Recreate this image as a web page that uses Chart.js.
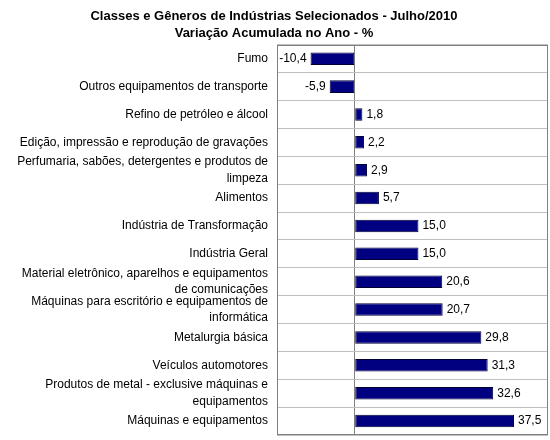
<!DOCTYPE html>
<html>
<head>
<meta charset="utf-8">
<script src="https://cdn.jsdelivr.net/npm/chart.js@4.4.0/dist/chart.umd.min.js"></script>
<style>
  html, body { margin: 0; padding: 0; background: #fff; }
  #wrap { width: 550px; height: 440px; }
</style>
</head>
<body>
<div id="wrap"><canvas id="grafico"></canvas></div>
<script>
const setores = [
    'Fumo',
    'Outros equipamentos de transporte',
    'Refino de petróleo e álcool',
    'Edição, impressão e reprodução de gravações',
    ['Perfumaria, sabões, detergentes e produtos de', 'limpeza'],
    'Alimentos',
    'Indústria de Transformação',
    'Indústria Geral',
    ['Material eletrônico, aparelhos e equipamentos', 'de comunicações'],
    ['Máquinas para escritório e equipamentos de', 'informática'],
    'Metalurgia básica',
    'Veículos automotores',
    ['Produtos de metal - exclusive máquinas e', 'equipamentos'],
    'Máquinas e equipamentos'
];
const variacao = [-10.4, -5.9, 1.8, 2.2, 2.9, 5.7, 15.0, 15.0, 20.6, 20.7, 29.8, 31.3, 32.6, 37.5];

const fonte = "'Liberation Sans', Arial, sans-serif";

// moldura cinza em volta da área do gráfico
const moldura = {
    id: 'moldura',
    afterDraw(chart) {
        const a = chart.chartArea;
        const ctx = chart.ctx;
        ctx.save();
        ctx.strokeStyle = '#808080';
        ctx.lineWidth = 1;
        ctx.strokeRect(Math.round(a.left) + 0.5, Math.round(a.top) + 0.5,
            Math.round(a.right - a.left) - 1, Math.round(a.bottom - a.top) - 1);
        ctx.restore();
    }
};

// rótulos com os valores ao lado das barras
const rotulos = {
    id: 'rotulos',
    afterDatasetsDraw(chart) {
        const ctx = chart.ctx;
        const meta = chart.getDatasetMeta(0);
        ctx.save();
        ctx.font = '12px ' + fonte;
        ctx.fillStyle = '#000';
        ctx.textBaseline = 'middle';
        meta.data.forEach((bar, i) => {
            const v = variacao[i];
            const txt = v.toFixed(1).replace('.', ',');
            if (v < 0) {
                ctx.textAlign = 'right';
                ctx.fillText(txt, bar.x - 4, bar.y);
            } else {
                ctx.textAlign = 'left';
                ctx.fillText(txt, bar.x + 4, bar.y);
            }
        });
        ctx.restore();
    }
};

const grafico = new Chart(document.getElementById('grafico').getContext('2d'), {
    type: 'bar',
    data: {
        labels: setores,
        datasets: [{
            data: variacao,
            backgroundColor: '#000080',
            borderColor: '#000033',
            borderWidth: 1,
            borderSkipped: false,
            categoryPercentage: 1,
            barPercentage: 0.45
        }]
    },
    options: {
        indexAxis: 'y',
        responsive: true,
        maintainAspectRatio: false,
        animation: false,
        layout: { padding: { left: 0, right: 2, top: 0, bottom: 5 } },
        plugins: {
            legend: { display: false },
            tooltip: { enabled: false },
            title: {
                display: true,
                text: ['Classes e Gêneros de Indústrias Selecionados - Julho/2010', 'Variação Acumulada no Ano - %'],
                color: '#000',
                font: { family: fonte, size: 13, weight: 'bold', lineHeight: 1.3 },
                padding: { top: 8, bottom: 3 }
            }
        },
        scales: {
            x: {
                min: -18.3,
                max: 45.5,
                ticks: { display: false, stepSize: 10 },
                border: { display: false },
                grid: {
                    drawTicks: false,
                    color: (c) => (c.tick && c.tick.value === 0 ? '#808080' : 'rgba(0,0,0,0)')
                },
                afterFit(s) { s.height = 0; }
            },
            y: {
                border: { display: false },
                grid: { drawTicks: false, color: '#c0c0c0', offset: true },
                ticks: {
                    color: '#000',
                    padding: 9,
                    autoSkip: false,
                    font: { family: fonte, size: 12, lineHeight: 1.35 }
                },
                afterFit(s) {
                    s.width = 277;
                    s.paddingTop = 0;
                    s.paddingBottom = 0;
                }
            }
        }
    },
    plugins: [moldura, rotulos]
});
</script>
</body>
</html>
